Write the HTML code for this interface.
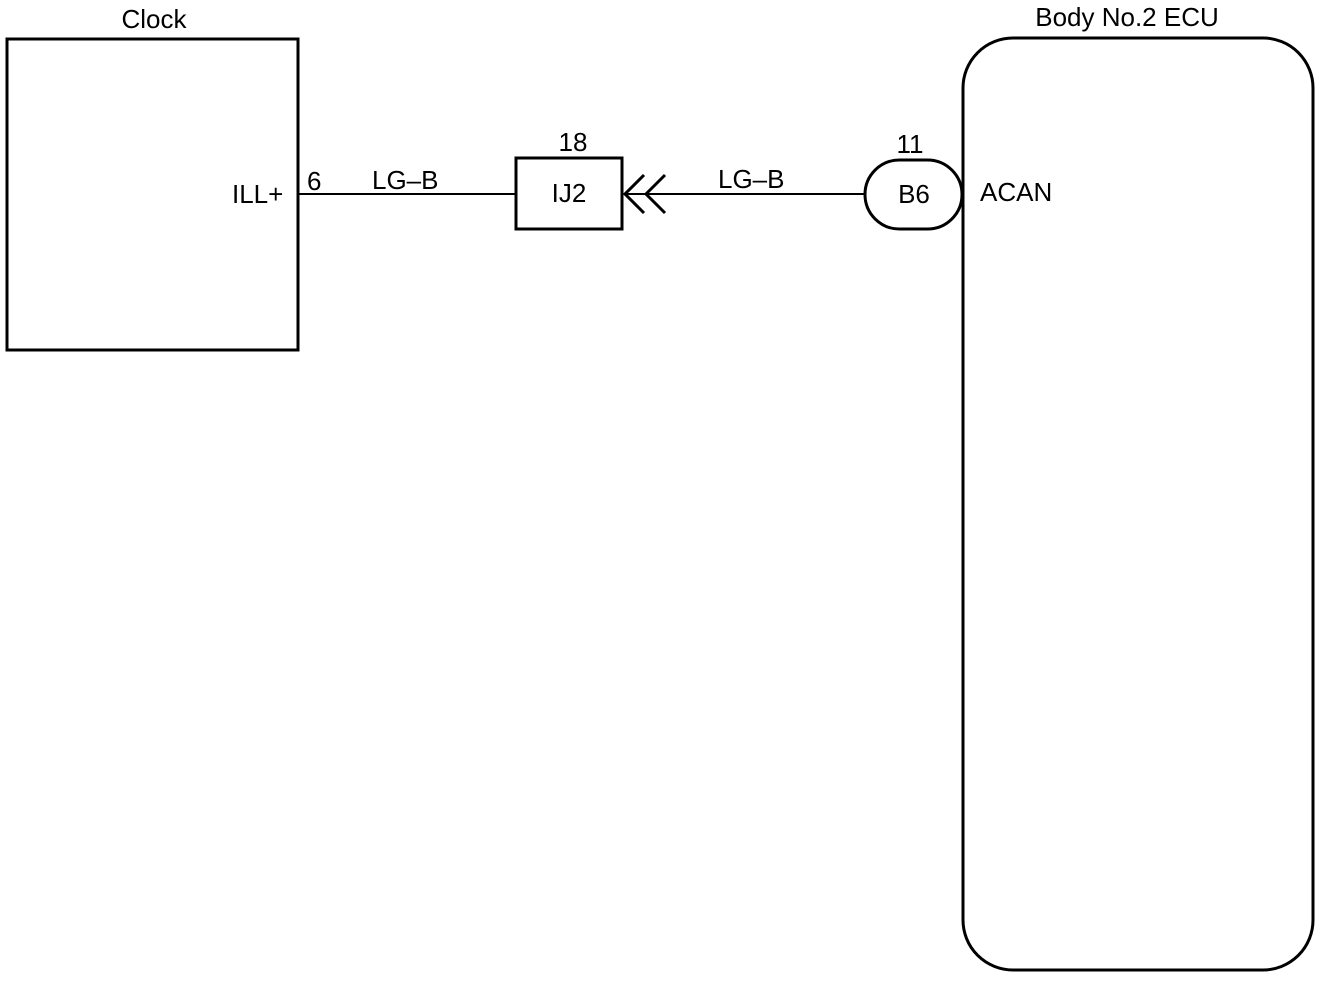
<!DOCTYPE html>
<html><head><style>body{margin:0;background:#fff}</style></head><body>
<svg width="1328" height="980" xmlns="http://www.w3.org/2000/svg" font-family="Liberation Sans, sans-serif" font-size="26" fill="none" stroke="#000">
<rect x="0" y="0" width="1328" height="980" fill="#fff" stroke="none"/>
<rect x="7" y="39" width="291" height="311" stroke-width="3"/>
<rect x="963" y="38" width="350" height="932" rx="50" ry="50" stroke-width="3"/>
<rect x="516" y="158" width="106" height="71" stroke-width="3"/>
<rect x="865" y="160" width="97" height="69" rx="34.5" ry="34.5" stroke-width="3"/>
<line x1="298" y1="194" x2="516" y2="194" stroke-width="2"/>
<line x1="626" y1="194" x2="865" y2="194" stroke-width="2"/>
<polyline points="644,175 625,194 644,213" stroke-width="3"/>
<polyline points="665,175 646,194 665,213" stroke-width="3"/>
<g fill="#000" stroke="none">
<text x="154" y="28" text-anchor="middle">Clock</text>
<text x="1127" y="26" text-anchor="middle">Body No.2 ECU</text>
<text x="232" y="203">ILL+</text>
<text x="307" y="190">6</text>
<text x="372" y="189">LG–B</text>
<text x="718" y="188">LG–B</text>
<text x="573" y="151" text-anchor="middle">18</text>
<text x="910" y="153" text-anchor="middle">11</text>
<text x="569" y="202" text-anchor="middle">IJ2</text>
<text x="914" y="203" text-anchor="middle">B6</text>
<text x="980" y="201">ACAN</text>
</g>
</svg>
</body></html>
